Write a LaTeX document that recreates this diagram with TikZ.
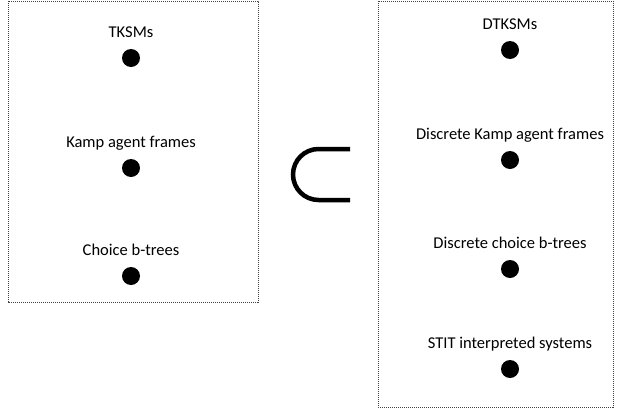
\documentclass[tikz,border=0pt]{standalone}
\usepackage{fontspec}
\setmainfont{Carlito}
\usetikzlibrary{positioning}

\begin{document}
\begin{tikzpicture}[x=1pt,y=-1pt,on grid,label distance=11pt]

  \tikzstyle{frame}=[draw=black!75,dash pattern=on 1.2pt off 0.8pt,line width=0.9pt]
  \tikzstyle{dot}=[circle,fill=black,inner sep=0pt,minimum size=18pt]
  \tikzstyle{every label}=[black,font=\fontsize{16.5}{20}\selectfont,text depth=0pt,inner sep=0pt]

  \useasboundingbox (0,0) rectangle (619,410);

  %left box
  \draw[frame] (8,1) rectangle (258,302);
  \node [dot,label=above:TKSMs] (tksm) at (131,58) {};
  \node [dot,label=above:Kamp agent frames] (kamp) [below=110pt of tksm] {};
  \node [dot,label=above:Choice b-trees] (cbt) [below=108pt of kamp] {};

  %right box
  \draw[frame] (378,1) rectangle (613,407);
  \node [dot,label=above:DTKSMs] (dtksm) at (510,50) {};
  \node [dot,label=above:Discrete Kamp agent frames] (dkamp) [below=110pt of dtksm] {};
  \node [dot,label=above:Discrete choice b-trees] (dcbt) [below=109pt of dkamp] {};
  \node [dot,label=above:STIT interpreted systems] (stit) [below=100pt of dcbt] {};

  %subset sign
  \draw[line width=4.5pt] (350,149) -- (318.5,149) arc[start angle=90,end angle=270,radius=25.5pt] -- (350,200);

\end{tikzpicture}
\end{document}
